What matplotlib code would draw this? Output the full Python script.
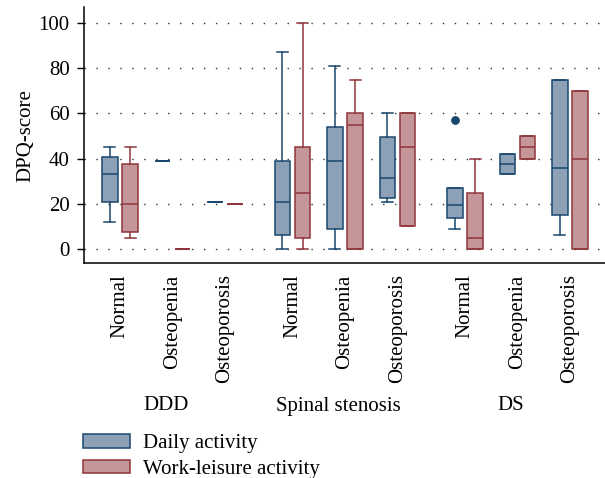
import numpy as np
import matplotlib
matplotlib.use('Agg')
import matplotlib.pyplot as plt
from matplotlib.patches import Patch
from matplotlib.transforms import blended_transform_factory

plt.rcParams['font.family'] = 'Liberation Serif'
plt.rcParams['font.size'] = 15

groups = ['DDD', 'Spinal stenosis', 'DS']
bmd = ['Normal', 'Osteopenia', 'Osteoporosis']

# five-number summaries, one entry per group x bmd category
daily_whislo = [12, 39, 21, 0, 0, 21, 9, 33, 6]
daily_q1 = [21, 39, 21, 6, 9, 22.5, 13.5, 33, 15]
daily_med = [33, 39, 21, 21, 39, 31.5, 19.5, 37.5, 36]
daily_q3 = [40.5, 39, 21, 39, 54, 49.5, 27, 42, 75]
daily_whishi = [45, 39, 21, 87, 81, 60, 27, 42, 75]
daily_fliers = [[], [], [], [], [], [], [57], [], []]

work_whislo = [5, 0, 20, 0, 0, 10, 0, 40, 0]
work_q1 = [7.5, 0, 20, 5, 0, 10, 0, 40, 0]
work_med = [20, 0, 20, 25, 55, 45, 5, 45, 40]
work_q3 = [37.5, 0, 20, 45, 60, 60, 25, 50, 70]
work_whishi = [45, 0, 20, 100, 75, 60, 40, 50, 70]
work_fliers = [[], [], [], [], [], [], [], [], []]

navy, navy_fill = '#1A476F', '#8CA1B5'
maroon, maroon_fill = '#90353B', '#C49699'


def make_stats(lo, q1, med, q3, hi, fl):
    return [dict(whislo=a, q1=b, med=c, q3=d, whishi=e, fliers=f)
            for a, b, c, d, e, f in zip(lo, q1, med, q3, hi, fl)]


gap = 15 / 52.5
centers = np.array([i + (i // 3) * gap for i in range(9)])
off = 0.195
w = 0.295

fig = plt.figure(figsize=(6.05, 4.78), dpi=100)
ax = fig.add_axes([83.5 / 605, 1 - 263.3 / 478, 1 - 83.5 / 605, (263.3 - 7) / 478])

series = [
    (make_stats(daily_whislo, daily_q1, daily_med, daily_q3, daily_whishi, daily_fliers),
     centers - off, navy, navy_fill),
    (make_stats(work_whislo, work_q1, work_med, work_q3, work_whishi, work_fliers),
     centers + off, maroon, maroon_fill),
]
lw = 1.1
for st, pos, edge, fill in series:
    ax.bxp(st, positions=pos, widths=w, capwidths=0.21, patch_artist=True,
           showfliers=True, manage_ticks=False,
           boxprops=dict(facecolor=fill, edgecolor=edge, linewidth=lw),
           medianprops=dict(color=edge, linewidth=lw),
           whiskerprops=dict(color=edge, linewidth=lw),
           capprops=dict(color=edge, linewidth=lw),
           flierprops=dict(marker='o', markerfacecolor=edge, markeredgecolor=edge,
                           markersize=5.3))

ax.set_xlim(-36.5 / 52.5, (605 - 120) / 52.5)
ax.set_ylim(-6.33, 107.1)

ax.set_yticks(range(0, 101, 20))
ax.yaxis.grid(True, color='#333333', linestyle=(0, (1, 7.6)), linewidth=1.0)
ax.set_axisbelow(True)
ax.tick_params(axis='y', length=5, width=1, pad=5.0)
ax.set_xticks(centers)
ax.set_xticklabels(bmd * 3, rotation=90, va='top', ha='center')
ax.tick_params(axis='x', length=0, pad=8.0)
for s in ['top', 'right']:
    ax.spines[s].set_visible(False)
for s in ['left', 'bottom']:
    ax.spines[s].set_linewidth(1.1)
ax.set_ylabel('DPQ-score', labelpad=2)

trans = blended_transform_factory(ax.transData, fig.transFigure)
for k, g in enumerate(groups):
    ax.text(centers[3 * k + 1] - 0.13, 1 - 406 / 478, g, ha='center', va='center',
            transform=trans)

handles = [Patch(facecolor=navy_fill, edgecolor=navy, linewidth=lw, label='Daily activity'),
           Patch(facecolor=maroon_fill, edgecolor=maroon, linewidth=lw,
                 label='Work-leisure activity')]
fig.legend(handles=handles, loc='upper left', bbox_to_anchor=(83 / 605, 1 - 434 / 478),
           frameon=False, borderpad=0, borderaxespad=0, handlelength=2.25,
           handleheight=0.65, handletextpad=0.62, labelspacing=0.3)

fig.savefig('out.png', dpi=100)
